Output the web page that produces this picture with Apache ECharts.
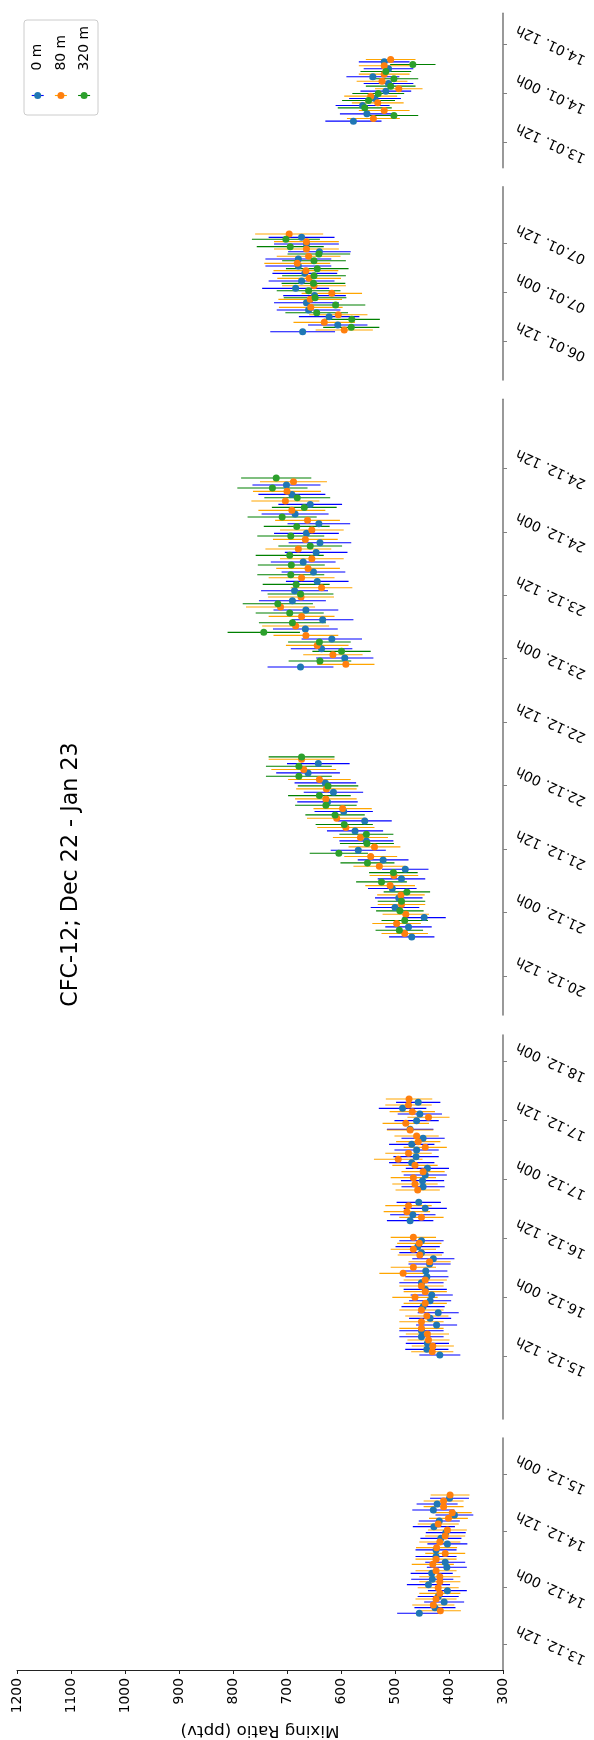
<!DOCTYPE html>
<html><head><meta charset="utf-8">
<script src="https://cdn.jsdelivr.net/npm/echarts@6/dist/echarts.min.js"></script>
<style>html,body{margin:0;padding:0;background:#fff}#c{width:594px;height:1740px}</style>
</head><body><div id="c"></div>
<script>
// ---------------- DATA ----------------
const chartTitle = 'CFC-12; Dec 22 - Jan 23';
const axisName = 'Mixing Ratio (pptv)';
const seriesNames = ['0 m', '80 m', '320 m'];
// time = hours since 13.12.2022 00:00 ; each point [time, mixing ratio, error]
const p1_0m = [[18.55,455,41],[19.75,426,38],[20.94,409,37],[22.1,420,38],[23.34,403,36],[24.61,438,40],[25.74,431,39],[27.0,432,39],[28.3,404,37],[29.35,407,37],[30.55,424,38],[31.96,424,38],[33.23,403,37],[34.4,415,38],[35.6,406,37],[36.87,428,39],[38.07,418,38],[39.33,390,35],[40.39,429,39],[41.66,422,38],[42.86,399,36]];
const p1_80m = [[19.11,416,38],[20.3,429,39],[21.57,424,38],[22.77,417,38],[23.97,420,38],[25.24,417,38],[26.29,417,38],[27.56,424,38],[28.9,430,39],[30.0,424,38],[31.22,407,37],[32.43,423,38],[33.63,417,38],[34.9,407,37],[36.17,403,36],[37.44,420,38],[38.63,401,36],[39.83,394,36],[41.1,410,37],[42.3,410,37],[43.56,398,36]];
const p1_320m = [];
const p2_0m = [[60.2,417,38],[61.36,441,40],[62.58,440,40],[63.94,451,41],[65.16,451,41],[66.32,423,38],[67.68,435,39],[68.83,420,38],[70.06,448,40],[71.28,435,39],[72.44,432,39],[73.59,444,40],[74.95,451,41],[76.17,441,40],[77.33,443,40],[78.76,436,39],[79.84,429,39],[81.07,451,41],[82.29,458,41],[83.51,451,41],
  [87.59,472,43],[88.81,467,42],[90.1,444,40],[91.33,456,41],
  [94.52,448,40],[95.75,449,40],[96.9,444,40],[98.26,440,40],[99.42,469,42],[100.64,461,42],[102.0,460,41],[103.15,469,42],[104.38,448,40],[106.21,472,43],[107.98,460,41],[109.34,454,41],[110.49,486,44],[111.71,457,41]];
const p2_80m = [[60.88,431,39],[62.04,430,39],[63.26,438,39],[64.49,440,40],[65.64,451,41],[67.0,451,41],[68.15,441,40],[69.38,451,41],[70.74,444,40],[71.96,463,42],[73.12,444,40],[74.27,451,41],[75.49,444,40],[76.85,485,44],[78.08,466,42],[79.23,436,39],[80.59,454,41],[81.75,466,42],[82.97,455,41],[84.19,466,42],
  [88.27,451,41],[89.43,478,43],[90.65,475,43],
  [93.84,458,41],[95.07,463,42],[96.36,466,42],[97.58,448,40],[98.87,463,42],[100.1,494,45],[101.32,475,43],[102.54,444,40],[103.7,457,41],[104.85,460,41],[106.07,472,43],[107.43,480,43],[108.66,438,39],[109.81,468,42],[111.17,475,43],[112.4,474,43]];
const p2_320m = [];
const p3_0m = [[187.4,469,42],[189.29,475,43],[191.05,446,40],[192.95,500,45],[194.77,493,44],[196.54,505,45],[198.37,488,44],[200.19,481,43],[201.96,522,47],[203.79,568,51],[205.55,553,50],[207.44,574,52],[209.33,556,50],[211.1,595,54],[212.92,625,56],[214.75,614,55],[216.52,629,57],[218.41,661,59],[220.17,642,58],
  [238.42,675,61],[240.13,593,53],[241.89,636,57],[243.72,617,56],[245.61,666,60],[247.37,634,57],[249.2,665,60],[250.97,690,62],[252.86,686,62],[254.62,644,58],[256.39,651,59],[258.28,670,60],[260.1,646,58],[261.93,639,58],[263.7,664,60],[265.52,641,58],[267.35,685,62],[269.18,657,59],[271.07,691,62],[272.84,701,63]];
const p3_80m = [[188.03,482,43],[189.92,497,45],[191.68,480,43],[193.51,488,44],[195.34,489,44],[197.1,509,46],[199.0,502,45],[200.76,529,48],[202.59,545,49],[204.42,538,48],[206.18,564,51],[208.07,591,53],[209.84,608,55],[211.66,597,54],[213.49,628,57],[215.38,627,56],[217.15,640,58],[219.04,669,60],[220.99,673,61],
  [238.93,591,53],[240.76,615,55],[242.52,644,58],[244.41,665,60],[246.18,684,62],[248.0,673,61],[249.77,712,64],[251.66,674,61],[253.42,636,57],[255.31,673,61],[257.08,661,59],[258.91,654,59],[260.74,679,61],[262.56,666,60],[264.33,654,59],[266.16,662,60],[268.05,691,62],[269.81,703,63],[271.64,700,63],[273.47,688,62]];
const p3_320m = [[188.66,492,44],[190.49,482,43],[192.32,491,44],[194.14,488,44],[195.91,478,43],[197.8,525,47],[199.56,503,45],[201.39,551,50],[203.22,604,54],[205.05,552,50],[206.81,553,50],[208.64,594,53],[210.47,611,55],[212.29,628,57],[214.12,640,58],[215.95,624,56],[217.78,678,61],[219.67,678,61],[221.43,673,61],
  [239.56,639,58],[241.39,599,54],[243.15,640,58],[244.98,743,67],[246.81,690,62],[248.63,695,63],[250.4,717,65],[252.23,675,61],[254.05,683,62],[255.88,693,62],[257.71,692,62],[259.54,695,63],[261.3,657,59],[263.19,693,62],[265.02,682,61],[266.79,709,64],[268.61,668,60],[270.44,681,61],[272.27,727,65],[274.16,720,65]];
const p4_0m = [[590.3,671,60],[591.94,606,55],[594.0,622,56],[595.64,660,59],[597.45,664,60],[599.2,649,58],[600.99,684,62],[602.8,673,61],[604.69,667,60],[606.5,679,61],[608.22,679,61],[610.03,640,58],[611.92,664,60],[613.57,673,61]];
const p4_80m = [[590.71,594,53],[592.6,631,57],[594.49,605,54],[596.3,656,59],[598.27,657,59],[599.75,617,56],[601.64,650,59],[603.45,659,59],[605.35,665,60],[607.15,681,61],[608.9,660,59],[610.69,664,60],[612.5,664,60],[614.39,696,63]];
const p4_320m = [[591.37,581,52],[593.34,580,52],[594.98,645,58],[596.88,610,55],[598.68,648,58],[600.41,660,59],[602.22,651,59],[604.11,650,59],[605.84,644,58],[607.81,650,59],[609.46,641,58],[611.27,694,62],[613.08,702,63]];
const p5_0m = [[761.25,577,52],[763.04,552,50],[765.07,560,50],[766.78,537,48],[768.57,517,47],[770.44,512,46],[772.07,541,49],[774.02,512,46],[775.72,520,47]];
const p5_80m = [[761.9,540,49],[763.85,520,47],[765.72,532,48],[767.35,545,49],[769.14,493,44],[771.0,524,47],[772.72,520,47],[774.75,520,47],[776.29,508,46]];
const p5_320m = [[762.63,502,45],[764.5,556,50],[766.29,549,49],[768.0,531,48],[769.79,508,46],[771.58,502,45],[773.37,517,47],[775.07,467,42]];

const ticks1 = ['13.12. 12h','14.12. 00h','14.12. 12h','15.12. 00h'];
const ticks2 = ['15.12. 12h','16.12. 00h','16.12. 12h','17.12. 00h','17.12. 12h','18.12. 00h'];
const ticks3 = ['20.12. 12h','21.12. 00h','21.12. 12h','22.12. 00h','22.12. 12h','23.12. 00h','23.12. 12h','24.12. 00h','24.12. 12h'];
const ticks4 = ['06.01. 12h','07.01. 00h','07.01. 12h'];
const ticks5 = ['13.01. 12h','14.01. 00h','14.01. 12h'];
const timeMin = [6.57, 47.16, 172.63, 578.38, 749.9];
const timeMax = [55.61, 125.44, 289.05, 626.06, 787.56];
const valueMin = 300, valueMax = 1200, valueStep = 100;

// ---------------- LAYOUT / STYLE ----------------
const gridTop = [1438, 1035, 399.3, 186.7, 13.3];
const gridH = [232, 384, 615.7, 193.3, 154.4];
const markerColors = ['#1f77b4', '#ff7f0e', '#2ca02c'];
const barColors = ['#0000ff', '#ffa500', '#008000'];
const FONT = 'DejaVu Sans';

function labelToHour(s) {
  const d = parseInt(s.slice(0, 2)), m = parseInt(s.slice(3, 5)), h = parseInt(s.slice(7, 9));
  const day = m === 12 ? d - 13 : 31 - 13 + d;
  return day * 24 + h;
}
const panels = [
  {ticks: ticks1, data: [p1_0m, p1_80m, p1_320m]},
  {ticks: ticks2, data: [p2_0m, p2_80m, p2_320m]},
  {ticks: ticks3, data: [p3_0m, p3_80m, p3_320m]},
  {ticks: ticks4, data: [p4_0m, p4_80m, p4_320m]},
  {ticks: ticks5, data: [p5_0m, p5_80m, p5_320m]}
];

const grids = [], xAxes = [], yAxes = [], series = [];
panels.forEach((p, i) => {
  grids.push({left: 17, right: 91, top: gridTop[i], height: gridH[i], outerBoundsMode: 'none', containLabel: false});
  const bottom = i === 0;
  xAxes.push({
    type: 'value', gridIndex: i, min: valueMin, max: valueMax, interval: valueStep, inverse: true,
    show: bottom, position: 'bottom',
    axisLine: {show: true, onZero: false, lineStyle: {color: '#222', width: 1}},
    axisTick: {show: true, length: 4, lineStyle: {color: '#222'}},
    axisLabel: {rotate: 90, margin: 8, color: '#000', fontSize: 13.9, fontFamily: FONT, formatter: v => String(v)},
    splitLine: {show: false},
    name: bottom ? axisName : '', nameLocation: 'middle', nameGap: 52, nameRotate: 180, nameMoveOverlap: false,
    nameTextStyle: {fontSize: 16.7, fontFamily: FONT, color: '#000'}
  });
  const tickVals = p.ticks.map(labelToHour);
  const lab = {};
  p.ticks.forEach((t, k) => { lab[tickVals[k]] = t; });
  yAxes.push({
    type: 'value', gridIndex: i, min: timeMin[i], max: timeMax[i], position: 'right',
    axisLine: {show: true, onZero: false, lineStyle: {color: '#808080', width: 1.6}},
    axisTick: {show: true, length: 4, customValues: tickVals, lineStyle: {color: '#808080', width: 1}},
    axisLabel: {customValues: tickVals, rotate: 155, align: 'center', verticalAlign: 'middle', margin: 48,
      color: '#000', fontSize: 13.9, fontFamily: FONT,
      formatter: v => lab[Math.round(v)] || ''},
    splitLine: {show: false}
  });
  p.data.forEach((d, s) => {
    if (!d.length) return;
    series.push({
      type: 'custom', name: seriesNames[s] + ' err', xAxisIndex: i, yAxisIndex: i, data: d,
      encode: {x: 1, y: 0}, silent: true, z: 2,
      renderItem: (params, api) => {
        const t = api.value(0), v = api.value(1), e = api.value(2);
        const a = api.coord([v - e, t]), b = api.coord([v + e, t]);
        return {type: 'line', shape: {x1: a[0], y1: a[1], x2: b[0], y2: b[1]},
          style: {stroke: barColors[s], lineWidth: 1.1}};
      }
    });
    series.push({
      type: 'scatter', name: seriesNames[s], xAxisIndex: i, yAxisIndex: i, data: d,
      encode: {x: 1, y: 0}, symbol: 'circle', symbolSize: 7, silent: true, z: 2,
      itemStyle: {color: markerColors[s], opacity: 1}
    });
  });
});

// legend drawn as rotated graphic (whole figure is turned 90°)
const legendChildren = [{type: 'rect', shape: {x: 24, y: 20, width: 74, height: 95, r: 3},
  style: {fill: 'rgba(255,255,255,0.8)', stroke: '#cccccc', lineWidth: 1}}];
seriesNames.forEach((n, s) => {
  const cx = 37.7 + s * 23.2;
  legendChildren.push({type: 'line', shape: {x1: cx - 6, y1: 95.5, x2: cx + 6, y2: 95.5}, style: {stroke: barColors[s], lineWidth: 1.1}});
  legendChildren.push({type: 'circle', shape: {cx: cx, cy: 95.5, r: 3.5}, style: {fill: markerColors[s]}});
  legendChildren.push({type: 'text', x: cx, y: 70.5, rotation: Math.PI / 2,
    style: {text: n, fill: '#000', font: '13.9px "DejaVu Sans"', textAlign: 'left', textVerticalAlign: 'middle'}});
});

const chart = echarts.init(document.getElementById('c'), null, {renderer: 'canvas'});
chart.setOption({
  animation: false,
  backgroundColor: '#fff',
  grid: grids, xAxis: xAxes, yAxis: yAxes, series: series,
  graphic: [
    {type: 'text', x: 71.5, y: 874.5, rotation: Math.PI / 2,
      style: {text: chartTitle, fill: '#000', font: '22.2px "DejaVu Sans"', textAlign: 'center', textVerticalAlign: 'middle'}},
    {type: 'group', children: legendChildren}
  ]
});
</script>
</body></html>
